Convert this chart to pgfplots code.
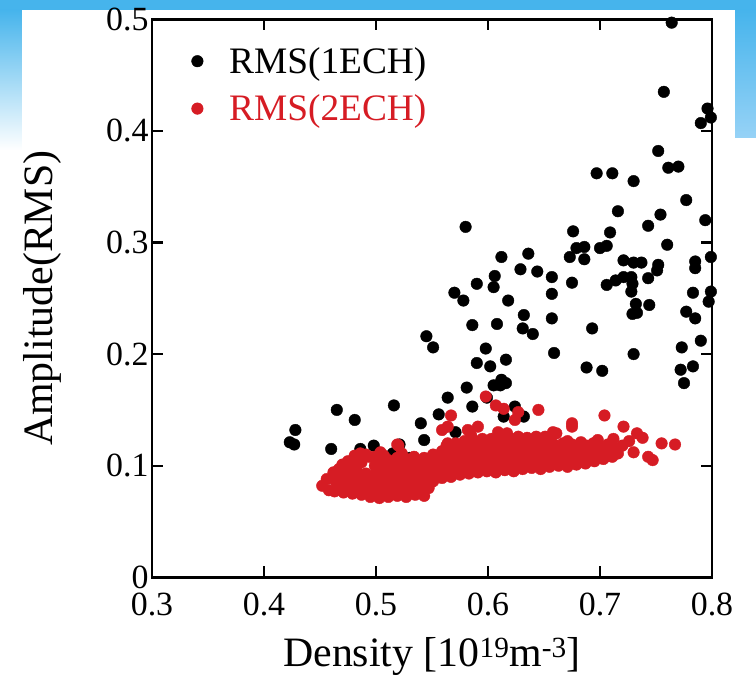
\documentclass[border=0pt]{standalone}
\usepackage{fontspec}
\setmainfont{Liberation Serif}
\usepackage{pgfplots}
\pgfplotsset{compat=1.18}
\definecolor{rmsred}{RGB}{214,28,36}
\definecolor{slideblue}{RGB}{70,180,236}
\definecolor{slidelight}{RGB}{150,210,246}

\pgfplotstableread{
x y
0.764 0.497
0.757 0.435
0.796 0.420
0.799 0.412
0.790 0.407
0.752 0.382
0.761 0.367
0.770 0.368
0.697 0.362
0.711 0.362
0.730 0.355
0.777 0.338
0.716 0.328
0.754 0.325
0.743 0.315
0.794 0.320
0.676 0.310
0.709 0.309
0.760 0.298
0.679 0.295
0.686 0.296
0.700 0.295
0.706 0.297
0.673 0.287
0.686 0.285
0.721 0.284
0.730 0.282
0.737 0.282
0.752 0.280
0.751 0.275
0.799 0.287
0.785 0.283
0.785 0.277
0.675 0.264
0.706 0.262
0.714 0.266
0.721 0.269
0.728 0.269
0.729 0.263
0.743 0.268
0.728 0.256
0.783 0.255
0.799 0.256
0.797 0.247
0.732 0.245
0.744 0.244
0.729 0.236
0.733 0.237
0.777 0.238
0.785 0.232
0.693 0.223
0.790 0.212
0.773 0.206
0.730 0.200
0.688 0.188
0.702 0.185
0.783 0.189
0.772 0.186
0.775 0.174
0.580 0.314
0.612 0.287
0.636 0.290
0.629 0.276
0.644 0.274
0.657 0.269
0.606 0.270
0.605 0.260
0.590 0.263
0.570 0.255
0.578 0.248
0.618 0.248
0.657 0.254
0.632 0.235
0.657 0.232
0.586 0.226
0.608 0.227
0.631 0.223
0.640 0.218
0.545 0.216
0.551 0.206
0.598 0.205
0.659 0.201
0.590 0.192
0.602 0.189
0.616 0.195
0.612 0.177
0.616 0.174
0.611 0.172
0.605 0.172
0.581 0.170
0.564 0.161
0.586 0.153
0.599 0.161
0.624 0.153
0.556 0.146
0.540 0.138
0.571 0.130
0.614 0.144
0.632 0.144
0.585 0.117
0.543 0.123
0.516 0.154
0.465 0.150
0.481 0.141
0.428 0.132
0.423 0.121
0.427 0.119
0.460 0.115
0.486 0.115
0.498 0.118
0.521 0.119
0.515 0.111
0.549 0.105
0.530 0.107
}\blackdata

\pgfplotstableread{
x y
0.452 0.082
0.456 0.088
0.458 0.078
0.463 0.077
0.464 0.086
0.462 0.094
0.471 0.076
0.470 0.085
0.472 0.093
0.470 0.101
0.479 0.075
0.478 0.084
0.480 0.092
0.479 0.100
0.481 0.109
0.487 0.074
0.486 0.083
0.488 0.091
0.487 0.103
0.486 0.111
0.495 0.072
0.494 0.081
0.496 0.089
0.494 0.108
0.503 0.071
0.502 0.080
0.504 0.088
0.503 0.096
0.502 0.104
0.504 0.112
0.511 0.072
0.512 0.080
0.510 0.088
0.512 0.097
0.511 0.105
0.519 0.073
0.520 0.082
0.518 0.091
0.520 0.099
0.519 0.107
0.520 0.118
0.527 0.072
0.528 0.081
0.526 0.090
0.528 0.098
0.527 0.106
0.535 0.074
0.534 0.083
0.536 0.092
0.535 0.100
0.534 0.108
0.543 0.073
0.544 0.084
0.542 0.092
0.544 0.099
0.543 0.107
0.551 0.086
0.552 0.094
0.550 0.102
0.551 0.110
0.559 0.089
0.558 0.097
0.560 0.105
0.559 0.113
0.567 0.090
0.568 0.098
0.566 0.106
0.567 0.114
0.575 0.092
0.576 0.100
0.574 0.108
0.575 0.116
0.583 0.093
0.582 0.101
0.584 0.109
0.583 0.118
0.591 0.094
0.592 0.102
0.590 0.110
0.591 0.120
0.599 0.095
0.600 0.103
0.598 0.111
0.600 0.120
0.607 0.094
0.606 0.102
0.608 0.110
0.607 0.119
0.615 0.096
0.616 0.104
0.614 0.112
0.615 0.121
0.623 0.095
0.622 0.103
0.624 0.111
0.623 0.120
0.631 0.097
0.632 0.105
0.630 0.113
0.631 0.121
0.639 0.098
0.638 0.106
0.640 0.114
0.639 0.122
0.647 0.097
0.648 0.105
0.646 0.113
0.647 0.121
0.655 0.099
0.654 0.107
0.656 0.115
0.655 0.123
0.663 0.100
0.664 0.108
0.662 0.116
0.671 0.099
0.670 0.107
0.672 0.115
0.671 0.122
0.679 0.101
0.680 0.109
0.678 0.117
0.687 0.102
0.686 0.110
0.688 0.118
0.695 0.104
0.696 0.112
0.694 0.120
0.703 0.106
0.702 0.114
0.711 0.108
0.712 0.116
0.467 0.081
0.467 0.089
0.467 0.097
0.475 0.080
0.475 0.088
0.475 0.096
0.475 0.104
0.483 0.079
0.483 0.087
0.483 0.095
0.483 0.106
0.491 0.077
0.491 0.085
0.491 0.093
0.491 0.110
0.499 0.076
0.499 0.084
0.499 0.092
0.499 0.100
0.499 0.108
0.507 0.075
0.507 0.084
0.507 0.092
0.507 0.101
0.507 0.109
0.515 0.076
0.515 0.085
0.515 0.094
0.515 0.102
0.523 0.077
0.523 0.086
0.523 0.094
0.523 0.103
0.523 0.111
0.531 0.077
0.531 0.087
0.531 0.095
0.531 0.104
0.539 0.078
0.539 0.088
0.539 0.096
0.539 0.104
0.547 0.080
0.547 0.090
0.547 0.098
0.547 0.106
0.555 0.093
0.555 0.101
0.555 0.109
0.563 0.094
0.563 0.102
0.563 0.110
0.563 0.118
0.571 0.095
0.571 0.104
0.571 0.112
0.571 0.120
0.579 0.097
0.579 0.105
0.579 0.113
0.579 0.122
0.587 0.098
0.587 0.106
0.587 0.114
0.587 0.123
0.595 0.099
0.595 0.107
0.595 0.115
0.595 0.124
0.603 0.098
0.603 0.106
0.603 0.115
0.603 0.124
0.611 0.099
0.611 0.107
0.611 0.116
0.611 0.125
0.619 0.100
0.619 0.108
0.619 0.116
0.619 0.125
0.627 0.101
0.627 0.109
0.627 0.117
0.627 0.126
0.635 0.101
0.635 0.109
0.635 0.117
0.635 0.125
0.643 0.102
0.643 0.110
0.643 0.118
0.651 0.102
0.651 0.110
0.651 0.118
0.651 0.126
0.659 0.103
0.659 0.111
0.659 0.119
0.667 0.104
0.667 0.112
0.667 0.120
0.675 0.104
0.675 0.112
0.675 0.119
0.683 0.106
0.683 0.113
0.683 0.121
0.691 0.107
0.691 0.115
0.699 0.109
0.699 0.117
0.707 0.111
0.707 0.119
0.720 0.118
0.726 0.122
0.738 0.125
0.712 0.124
0.598 0.162
0.607 0.154
0.614 0.151
0.567 0.145
0.645 0.150
0.627 0.148
0.704 0.145
0.559 0.132
0.564 0.135
0.591 0.135
0.624 0.141
0.675 0.135
0.675 0.138
0.658 0.130
0.721 0.135
0.733 0.129
0.564 0.120
0.519 0.119
0.582 0.132
0.585 0.127
0.609 0.130
0.617 0.129
0.626 0.123
0.643 0.126
0.661 0.129
0.698 0.123
0.755 0.120
0.767 0.119
0.747 0.105
0.743 0.108
0.705 0.108
0.716 0.111
0.730 0.112
}\reddata

\begin{document}
\begin{tikzpicture}
\useasboundingbox (-152bp,-103.7bp) rectangle (604bp,577.3bp);
\fill[slideblue] (-152bp,567.3bp) rectangle (604bp,577.3bp);
\shade[top color=slideblue,bottom color=white] (-152bp,427bp) rectangle (-130bp,567.3bp);
\shade[top color=slideblue,bottom color=slidelight] (583bp,440bp) rectangle (604bp,567.3bp);
\begin{axis}[
  scale only axis, width=560bp, height=558bp,
  xmin=0.3, xmax=0.8, ymin=0, ymax=0.5,
  xtick={0.3,0.4,0.5,0.6,0.7,0.8},
  xticklabels={0.3,0.4,0.5,0.6,0.7,0.8},
  ytick={0,0.1,0.2,0.3,0.4,0.5},
  yticklabels={0,0.1,0.2,0.3,0.4,0.5},
  tick align=inside, major tick length=11bp,
  axis line style={line width=2.5bp},
  every tick/.style={line width=2.3bp, black},
  tick label style={font=\fontsize{34}{40}\selectfont},
  xticklabel style={yshift=-12bp},
  label style={font=\fontsize{42}{50}\selectfont},
  xlabel style={yshift=-15bp},
  ylabel style={yshift=38bp},
  xlabel={Density [10\textsuperscript{19}m\textsuperscript{-3}]},
  ylabel={Amplitude(RMS)},
  clip=false,
  legend cell align=left,
  legend style={at={(0.065,0.957)}, anchor=north west, draw=none, fill=none,
    font=\fontsize{37.5}{44}\selectfont, row sep=16bp,
    /tikz/every odd column/.append style={column sep=24bp}},
]
\addplot[only marks, mark=*, mark size=5.8bp, black, mark options={draw=black, fill=black}] table {\blackdata};
\addlegendentry{RMS(1ECH)}
\addplot[only marks, mark=*, mark size=5.8bp, rmsred, mark options={draw=rmsred, fill=rmsred}] table {\reddata};
\addlegendentry{\textcolor{rmsred}{RMS(2ECH)}}
\end{axis}
\end{tikzpicture}
\end{document}
